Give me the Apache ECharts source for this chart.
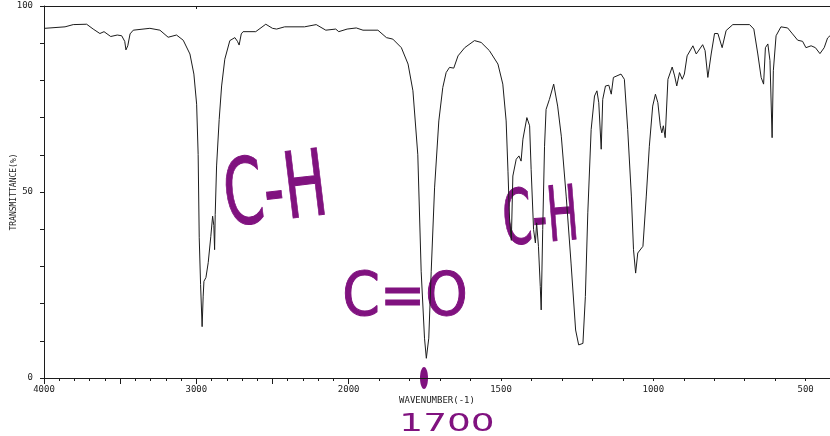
<!DOCTYPE html>
<html>
<head>
<meta charset="utf-8">
<title>IR spectrum</title>
<script src="https://cdn.jsdelivr.net/npm/echarts@6/dist/echarts.min.js"></script>
<style>
  html, body { margin: 0; padding: 0; background: #fff; }
  #chart { width: 830px; height: 436px; }
</style>
</head>
<body>
<div id="chart"></div>
<script>
// values, wavenumber high -> low
var wavenumbers = [
  3995, 3862, 3808, 3720, 3677, 3633, 3606, 3562, 3519, 3490, 3470, 3462, 3450, 3435, 3414,
  3305, 3239, 3185, 3130, 3086, 3042, 3016, 2998, 2988, 2981, 2972, 2962, 2955, 2950, 2937,
  2922, 2905, 2893, 2885, 2880, 2876, 2867, 2850, 2834, 2813, 2780, 2747, 2730, 2719, 2705,
  2693, 2610, 2544, 2500, 2473, 2420, 2290, 2213, 2150, 2085, 2065, 2010, 1975, 1953, 1904,
  1876, 1855, 1827, 1805, 1789, 1773, 1762, 1751, 1745, 1737, 1729, 1718, 1704, 1691, 1680,
  1669, 1655, 1641, 1619, 1587, 1565, 1538, 1510, 1494, 1483, 1477, 1472, 1466, 1461, 1450,
  1441, 1434, 1428, 1415, 1406, 1401, 1393, 1387, 1383, 1377, 1371, 1368, 1363, 1357, 1352,
  1341, 1327, 1314, 1302, 1286, 1270, 1255, 1245, 1231, 1223, 1215, 1204, 1193, 1185, 1179,
  1171, 1166, 1157, 1146, 1138, 1131, 1106, 1095, 1084, 1072, 1065, 1058, 1051, 1034, 1023,
  1013, 1002, 993, 985, 977, 972, 967, 961, 952, 938, 930, 923, 914, 905, 898,
  889, 870, 859, 838, 830, 821, 810, 799, 788, 774, 761, 739, 684, 670, 657,
  646, 638, 632, 624, 617, 610, 606, 597, 581, 559, 543, 526, 510, 499, 482,
  468, 453, 439, 428, 420
];
var transmittance = [
  94.0, 94.4, 95.0, 95.1, 93.8, 92.6, 93.1, 91.8, 92.2, 92.0, 90.5, 88.2, 89.3, 92.5, 93.5,
  94.0, 93.5, 91.6, 92.2, 90.8, 87.1, 81.7, 73.6, 60.1, 37.7, 25.1, 13.8, 22.0, 26.0, 27.0,
  31.0, 38.0, 43.5, 41.0, 34.5, 44.0, 57.0, 69.5, 78.5, 85.7, 90.7, 91.5, 90.5, 89.5, 92.5,
  93.1, 93.1, 95.1, 94.0, 93.8, 94.4, 94.4, 95.0, 93.5, 93.8, 93.1, 93.8, 94.1, 93.5, 93.5,
  91.5, 91.1, 88.8, 84.4, 77.2, 60.0, 28.7, 10.7, 5.3, 10.7, 28.7, 51.1, 69.1, 78.1, 82.1,
  83.5, 83.3, 86.6, 88.8, 90.7, 90.2, 88.0, 84.4, 79.0, 69.1, 55.6, 43.0, 37.0, 54.3, 58.8,
  59.7, 58.3, 64.2, 70.0, 67.8, 56.1, 39.9, 36.3, 41.7, 35.4, 24.6, 18.3, 39.9, 62.3, 72.2,
  74.9, 79.0, 73.1, 65.0, 48.9, 30.9, 12.9, 8.9, 9.3, 21.9, 44.4, 66.8, 75.8, 77.2, 74.0,
  61.5, 74.9, 78.5, 78.7, 76.3, 80.8, 81.7, 80.3, 66.8, 48.9, 34.5, 28.2, 33.6, 35.4, 48.9,
  62.3, 73.1, 76.3, 74.0, 67.8, 65.9, 67.8, 64.6, 80.3, 83.6, 81.2, 78.5, 82.1, 80.3, 81.7,
  86.6, 89.3, 87.1, 89.6, 88.0, 80.8, 87.1, 92.6, 92.6, 88.8, 93.4, 95.0, 95.0, 93.8, 87.1,
  80.8, 79.0, 88.8, 89.8, 85.3, 64.6, 82.6, 92.0, 94.4, 94.1, 92.5, 90.8, 90.5, 88.8, 89.3,
  88.8, 87.2, 88.8, 91.4, 92.0
];
var xLabelValues = [4000, 3000, 2000, 1500, 1000, 500];
var xMinorTicks = [4000, 3900, 3800, 3700, 3600, 3500, 3400, 3300, 3200, 3100, 3000, 2900, 2800,
  2700, 2600, 2500, 2400, 2300, 2200, 2100, 2000, 1900, 1800, 1700, 1600, 1500, 1400, 1300,
  1200, 1100, 1000, 900, 800, 700, 600, 500];
var xMajorTicks = [4000, 3500, 3000, 2500, 2000];
var yLabelValues = [0, 50, 100];

// the paper axis changes scale at 2000: below it, 100 cm-1 takes twice the room
function toAxis(w) { return w >= 2000 ? 4000 - w : 2000 + 2 * (2000 - w); }
function fromAxis(p) { return p <= 2000 ? 4000 - p : 2000 - (p - 2000) / 2; }

var AX_MIN = 0, AX_MAX = toAxis(420);
var ink = '#1c1c1c';
var pen = '#80127f';
var axisFont = 'DejaVu Sans Mono';

var points = wavenumbers.map(function (w, i) { return [toAxis(w), transmittance[i]]; });

var chart = echarts.init(document.getElementById('chart'));
chart.setOption({
  animation: false,
  grid: { left: 44, right: 0, top: 6, bottom: 58, containLabel: false, outerBoundsMode: 'none' },
  xAxis: [
    {
      type: 'value', position: 'bottom', min: AX_MIN, max: AX_MAX,
      name: 'WAVENUMBER(-1)', nameLocation: 'middle', nameGap: 18, nameMoveOverlap: false,
      nameTextStyle: { fontFamily: axisFont, fontSize: 9, color: ink },
      axisLine: { lineStyle: { color: ink, width: 1 } },
      axisTick: { length: 3, lineStyle: { color: ink }, customValues: xMinorTicks.map(toAxis) },
      axisLabel: {
        customValues: xLabelValues.map(toAxis), margin: 7,
        fontFamily: axisFont, fontSize: 9, color: ink,
        formatter: function (v) { return String(Math.round(fromAxis(v))); }
      },
      splitLine: { show: false }
    },
    {
      type: 'value', position: 'bottom', min: AX_MIN, max: AX_MAX,
      axisLine: { show: false },
      axisTick: { length: 6, lineStyle: { color: ink }, customValues: xMajorTicks.map(toAxis) },
      axisLabel: { show: false },
      splitLine: { show: false }
    },
    {
      type: 'value', position: 'top', min: AX_MIN, max: AX_MAX,
      axisLine: { lineStyle: { color: ink, width: 1 } },
      axisTick: { inside: true, length: 3, lineStyle: { color: ink }, customValues: [toAxis(3000)] },
      axisLabel: { show: false },
      splitLine: { show: false }
    }
  ],
  yAxis: {
    type: 'value', min: 0, max: 100, interval: 10,
    name: 'TRANSMITTANCE(%)', nameLocation: 'middle', nameGap: 26, nameMoveOverlap: false,
    nameTextStyle: { fontFamily: axisFont, fontSize: 8, color: ink },
    axisLine: { show: true, lineStyle: { color: ink, width: 1 } },
    axisTick: { length: 4, lineStyle: { color: ink } },
    axisLabel: { customValues: yLabelValues, margin: 11, fontFamily: axisFont, fontSize: 9, color: ink },
    splitLine: { show: false }
  },
  series: [{
    type: 'line',
    xAxisIndex: 0,
    data: points,
    showSymbol: false,
    silent: true,
    lineStyle: { color: ink, width: 1 }
  }],
  graphic: [
    { type: 'text', x: 276, y: 196, rotation: 0.12, scaleX: 0.62,
      style: { text: 'C-H', font: '92px "DejaVu Sans"', fill: pen, stroke: pen, lineWidth: 1,
               align: 'center', verticalAlign: 'middle' } },
    { type: 'text', x: 405, y: 299, scaleX: 0.9,
      style: { text: 'C=O', font: '60px "DejaVu Sans"', fill: pen, stroke: pen, lineWidth: 1,
               align: 'center', verticalAlign: 'middle' } },
    { type: 'text', x: 541, y: 222, rotation: 0.08, scaleX: 0.55,
      style: { text: 'C-H', font: '76px "DejaVu Sans"', fill: pen, stroke: pen, lineWidth: 1,
               align: 'center', verticalAlign: 'middle' } },
    { type: 'text', x: 447, y: 424, scaleX: 1.5,
      style: { text: '1700', font: '25px "DejaVu Sans"', fill: pen,
               align: 'center', verticalAlign: 'middle' } },
    { type: 'ellipse', shape: { cx: 424, cy: 378, rx: 4, ry: 11 },
      style: { fill: pen } }
  ]
});
</script>
</body>
</html>
